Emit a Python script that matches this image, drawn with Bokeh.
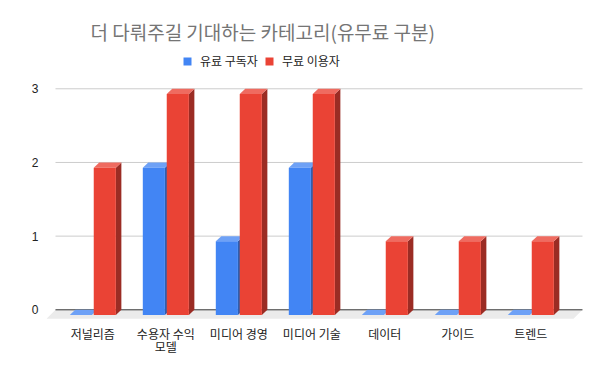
from bokeh.plotting import figure
from bokeh.models import Range1d, FixedTicker, Legend, LegendItem, ColumnDataSource
from bokeh.core.properties import value
from bokeh.embed import file_html
from bokeh.resources import INLINE

# ---- data ----
categories = ["저널리즘", "수용자 수익\n모델", "미디어 경영", "미디어 기술", "데이터", "가이드", "트렌드"]
paid = [0, 2, 1, 2, 0, 0, 0]
free = [2, 3, 3, 3, 1, 1, 1]
series_names = ["유료 구독자", "무료 이용자"]
y_ticks = [0, 1, 2, 3]
title_text = "더 다뤄주길 기대하는 카테고리(유무료 구분)"

# ---- styling / geometry ----
KR = "'Noto Sans CJK KR', 'Noto Sans', sans-serif"
PXX, PXY = 73.0, 73.67          # pixels per data unit
DX, DY = 5.5 / PXX, 5.2 / PXY   # 3D depth offsets (data units)
FDX, FDY = 9 / PXX, 9 / PXY     # floor depth
GRID_X0, GRID_X1 = -0.011, 7.208

blue_front, blue_top, blue_side = "#4285F4", "#6EA1F6", "#2F5EAE"
red_front, red_top, red_side = "#EA4335", "#EF6B60", "#9B2C24"

p = figure(width=600, height=371, title=None, output_backend="svg", toolbar_location=None,
           x_range=Range1d(-0.1342, 7.2356), y_range=Range1d(-0.1317, 4.1985),
           min_border_left=46, min_border_right=16, min_border_top=0, min_border_bottom=52)
p.outline_line_color = None
p.grid.visible = False
p.background_fill_color = "white"
p.border_fill_color = "white"

# floor
p.patch([GRID_X0 - FDX, GRID_X1 - FDX, GRID_X1, GRID_X0],
        [-FDY, -FDY, 0, 0], fill_color="#EBEBEB", line_color=None)

# gridlines
gy = [t for t in y_ticks if t != 0]
p.segment(x0=[GRID_X0] * len(gy), x1=[GRID_X1] * len(gy), y0=gy, y1=gy,
          line_color="#CCCCCC", line_width=1)
p.segment(x0=[GRID_X0], x1=[GRID_X1], y0=[0], y1=[0], line_color="#333333", line_width=1)


def bar_parts(vals, off0, off1):
    x0 = [i + 0.5 + off0 for i in range(len(vals))]
    x1 = [i + 0.5 + off1 for i in range(len(vals))]
    front = ColumnDataSource(dict(left=x0, right=x1, bottom=[-DY] * len(vals),
                                  top=[v - DY for v in vals]))
    top_xs = [[a, b, b + DX, a + DX] for a, b in zip(x0, x1)]
    top_ys = [[v - DY, v - DY, v, v] for v in vals]
    side_xs = [[b, b + DX, b + DX, b] for b in x1]
    side_ys = [[-DY, 0, v, v - DY] for v in vals]
    return front, top_xs, top_ys, side_xs, side_ys


renderers = []
for vals, (o0, o1), (cf, ct, cs) in [
        (paid, (-0.315, -0.012), (blue_front, blue_top, blue_side)),
        (free, (0.013, 0.316), (red_front, red_top, red_side))]:
    front, txs, tys, sxs, sys_ = bar_parts(vals, o0, o1)
    p.patches(sxs, sys_, fill_color=cs, line_color=None)
    p.patches(txs, tys, fill_color=ct, line_color=None)
    r = p.quad(left="left", right="right", bottom="bottom", top="top", source=front,
               fill_color=cf, line_color=None)
    renderers.append(r)

# title
p.text(x=[0.468], y=[3.7777], text=[title_text], text_font=value(KR), text_font_size="19px",
       text_color="#757575", text_align="left", text_baseline="middle")

# legend
legend = Legend(items=[LegendItem(label=series_names[0], renderers=[renderers[0]]),
                       LegendItem(label=series_names[1], renderers=[renderers[1]])],
                location=(136, 250), orientation="horizontal",
                glyph_width=10, glyph_height=10, label_standoff=8, spacing=6,
                padding=0, margin=0, label_height=10, label_width=10,
                border_line_color=None, background_fill_alpha=0,
                label_text_font=KR, label_text_font_size="12px", label_text_color="#222222")
p.add_layout(legend)

# axes
p.xaxis.ticker = FixedTicker(ticks=[i + 0.5 for i in range(len(categories))])
p.xaxis.major_label_overrides = {i + 0.5: c for i, c in enumerate(categories)}
p.xaxis.axis_line_color = None
p.xaxis.major_tick_line_color = None
p.xaxis.minor_tick_line_color = None
p.xaxis.major_tick_out = 0
p.xaxis.major_tick_in = 0
p.xaxis.major_label_standoff = 5
p.xaxis.major_label_text_font = KR
p.xaxis.major_label_text_font_size = "12px"
p.xaxis.major_label_text_color = "#222222"
p.xaxis.major_label_text_line_height = 0.8

p.yaxis.ticker = FixedTicker(ticks=y_ticks)
p.yaxis.axis_line_color = None
p.yaxis.major_tick_line_color = None
p.yaxis.minor_tick_line_color = None
p.yaxis.major_tick_out = 0
p.yaxis.major_tick_in = 0
p.yaxis.major_label_standoff = 8
p.yaxis.major_label_text_font = "'Liberation Sans', Arial, sans-serif"
p.yaxis.major_label_text_font_size = "12px"
p.yaxis.major_label_text_color = "#222222"

open("out.html", "w").write(file_html(p, INLINE))
